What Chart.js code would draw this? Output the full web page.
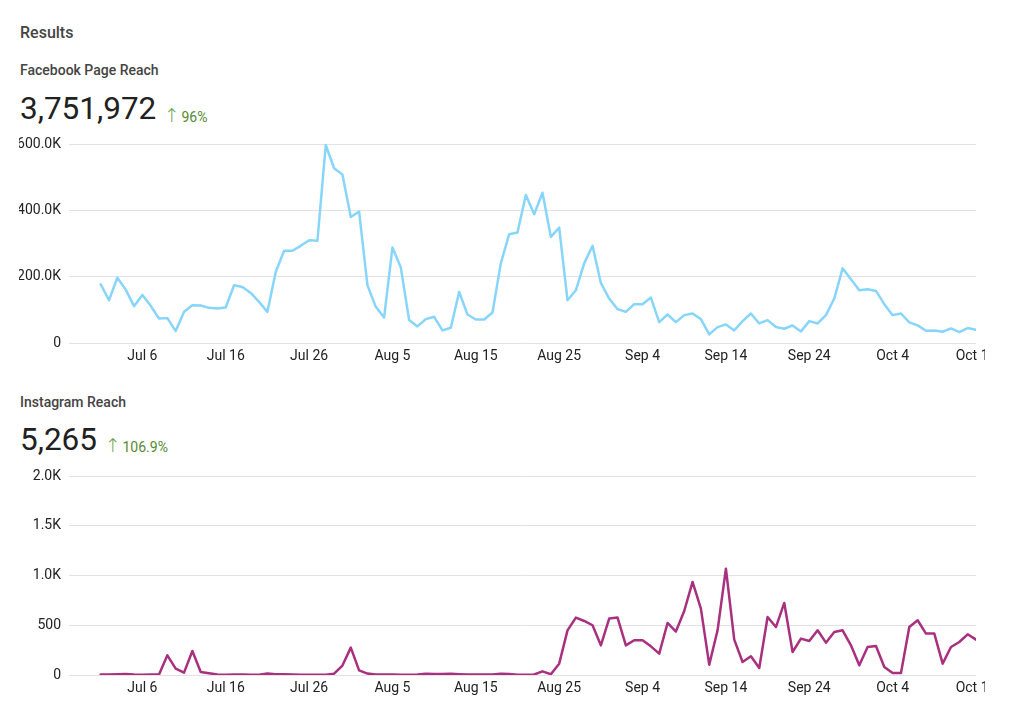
<!DOCTYPE html>
<html>
<head>
<meta charset="utf-8">
<script src="https://cdn.jsdelivr.net/npm/chart.js@4.4.1/dist/chart.umd.min.js"></script>
<style>
  html, body { margin: 0; padding: 0; background: #ffffff; }
  body { width: 1020px; height: 728px; position: relative; overflow: hidden; font-family: Roboto, "Noto Sans", sans-serif; }
  .t { position: absolute; white-space: nowrap; line-height: 1; }
  .h1 { font-size: 16px; font-weight: 500; color: #444444; }
  .h2 { font-size: 14px; font-weight: 500; color: #444444; }
  .big { font-size: 31.5px; font-weight: 400; color: #212121; }
  .chg { font-size: 14px; font-weight: 400; color: #558b2f; }
  .chg .ar { display: inline-block; width: 17.5px; line-height: 14px; font-family: "Noto Sans", "DejaVu Sans", sans-serif; font-size: 19px; font-weight: 300; color: #6fa24c; }
  .box { position: absolute; overflow: hidden; }
  canvas { display: block; }
</style>
</head>
<body>
<div class="t h1" style="left:20px; top:25px;">Results</div>
<div class="t h2" style="left:20px; top:63px;">Facebook Page Reach</div>
<div class="t big" style="left:20px; top:93px;">3,751,972</div>
<div class="t chg" style="left:164px; top:108px;"><span class="ar">↑</span>96%</div>

<div class="t h2" style="left:20px; top:395px;">Instagram Reach</div>
<div class="t big" style="left:20px; top:424px;">5,265</div>
<div class="t chg" style="left:105px; top:438px;"><span class="ar">↑</span>106.9%</div>

<div class="box" style="left:19px; top:132px; width:966px; height:240px;"><canvas id="fb" width="966" height="240"></canvas></div>
<div class="box" style="left:19px; top:464px; width:966px; height:240px;"><canvas id="ig" width="966" height="240"></canvas></div>

<script>
// Categories: one per day, Jul 1 .. Oct 14
const dates = [
  'Jul 1','Jul 2','Jul 3','Jul 4','Jul 5','Jul 6','Jul 7','Jul 8','Jul 9','Jul 10',
  'Jul 11','Jul 12','Jul 13','Jul 14','Jul 15','Jul 16','Jul 17','Jul 18','Jul 19','Jul 20',
  'Jul 21','Jul 22','Jul 23','Jul 24','Jul 25','Jul 26','Jul 27','Jul 28','Jul 29','Jul 30',
  'Jul 31','Aug 1','Aug 2','Aug 3','Aug 4','Aug 5','Aug 6','Aug 7','Aug 8','Aug 9',
  'Aug 10','Aug 11','Aug 12','Aug 13','Aug 14','Aug 15','Aug 16','Aug 17','Aug 18','Aug 19',
  'Aug 20','Aug 21','Aug 22','Aug 23','Aug 24','Aug 25','Aug 26','Aug 27','Aug 28','Aug 29',
  'Aug 30','Aug 31','Sep 1','Sep 2','Sep 3','Sep 4','Sep 5','Sep 6','Sep 7','Sep 8',
  'Sep 9','Sep 10','Sep 11','Sep 12','Sep 13','Sep 14','Sep 15','Sep 16','Sep 17','Sep 18',
  'Sep 19','Sep 20','Sep 21','Sep 22','Sep 23','Sep 24','Sep 25','Sep 26','Sep 27','Sep 28',
  'Sep 29','Sep 30','Oct 1','Oct 2','Oct 3','Oct 4','Oct 5','Oct 6','Oct 7','Oct 8',
  'Oct 9','Oct 10','Oct 11','Oct 12','Oct 13','Oct 14'
];

// Facebook Page Reach per day
const facebookReach = [
  177000,129000,197000,161000,111000,145000,112000,74000,75000,36000,
  94000,114000,113000,106000,104000,107000,174000,169000,151000,124000,
  94000,214000,278000,278000,293000,310000,308000,597000,527000,508000,
  380000,396000,174000,109000,77000,288000,228000,69000,50000,72000,
  79000,38000,46000,154000,86000,71000,71000,92000,240000,328000,
  333000,446000,388000,453000,320000,348000,129000,159000,240000,293000,
  181000,134000,102000,94000,117000,117000,137000,63000,86000,63000,
  84000,89000,72000,26000,48000,56000,38000,66000,89000,59000,
  69000,48000,43000,53000,35000,66000,59000,84000,134000,225000,
  192000,159000,162000,157000,117000,84000,89000,62000,53000,37000,
  38000,34000,44000,33000,45000,40000
];

// Instagram Reach per day
const instagramReach = [
  5,5,8,10,4,3,4,5,198,64,
  24,241,30,17,5,2,5,5,3,3,
  15,8,8,5,2,3,2,3,13,95,
  275,47,14,5,5,5,2,3,5,13,
  10,10,12,8,5,5,5,5,13,10,
  3,3,5,37,8,114,449,577,543,500,
  298,567,577,298,349,349,288,215,523,437,
  643,935,667,104,449,1069,356,131,188,70,
  583,482,724,231,366,342,449,325,432,449,
  298,97,281,291,80,20,20,482,550,416,
  416,114,281,332,409,356
];

// X tick positions (day indexes) and Y tick values
const xTickIndexes = [5, 15, 25, 35, 45, 55, 65, 75, 85, 95, 105];
const fbYTicks = [0, 200000, 400000, 600000];
const igYTicks = [0, 500, 1000, 1500, 2000];

const TICK_FONT = { family: 'Roboto', size: 14 };
const TICK_COLOR = '#222222';
const GRID_COLOR = '#e2e2e2';

function fmtK(v) {
  if (v === 0) return '0';
  if (v < 1000) return String(v);
  return (v / 1000).toFixed(1) + 'K';
}

function makeChart(id, values, yTicks, color) {
  const pts = values.map((v, i) => ({ x: i, y: v }));
  return new Chart(document.getElementById(id), {
    type: 'line',
    data: { datasets: [{ data: pts, borderColor: color, borderWidth: 2.5, pointRadius: 0, pointHoverRadius: 0, tension: 0, fill: false, borderJoinStyle: 'round', borderCapStyle: 'round' }] },
    options: {
      responsive: false,
      animation: false,
      devicePixelRatio: 1,
      events: [],
      layout: { padding: { top: 12, right: 9, left: 0, bottom: 0 } },
      plugins: { legend: { display: false }, tooltip: { enabled: false } },
      scales: {
        x: {
          type: 'linear',
          min: -3.8,
          max: dates.length - 1,
          afterBuildTicks: s => { s.ticks = xTickIndexes.map(v => ({ value: v })); },
          afterFit: s => { s.height = 29; s.paddingLeft = 0; s.paddingRight = 0; },
          grid: { display: false, drawTicks: false },
          border: { display: false },
          ticks: { autoSkip: false, maxRotation: 0, padding: 5, font: TICK_FONT, color: TICK_COLOR,
                   callback: v => dates[v] }
        },
        y: {
          min: yTicks[0],
          max: yTicks[yTicks.length - 1],
          afterBuildTicks: s => { s.ticks = yTicks.map(v => ({ value: v })); },
          afterFit: s => { s.width = 50; s.paddingTop = 0; s.paddingBottom = 0; },
          grid: { color: GRID_COLOR, lineWidth: 1, drawTicks: false },
          border: { display: false },
          ticks: { padding: 8, font: TICK_FONT, color: TICK_COLOR, callback: v => fmtK(v) }
        }
      }
    }
  });
}

makeChart('fb', facebookReach, fbYTicks, '#88d5fc');
makeChart('ig', instagramReach, igYTicks, '#a8307f');
</script>
</body>
</html>
